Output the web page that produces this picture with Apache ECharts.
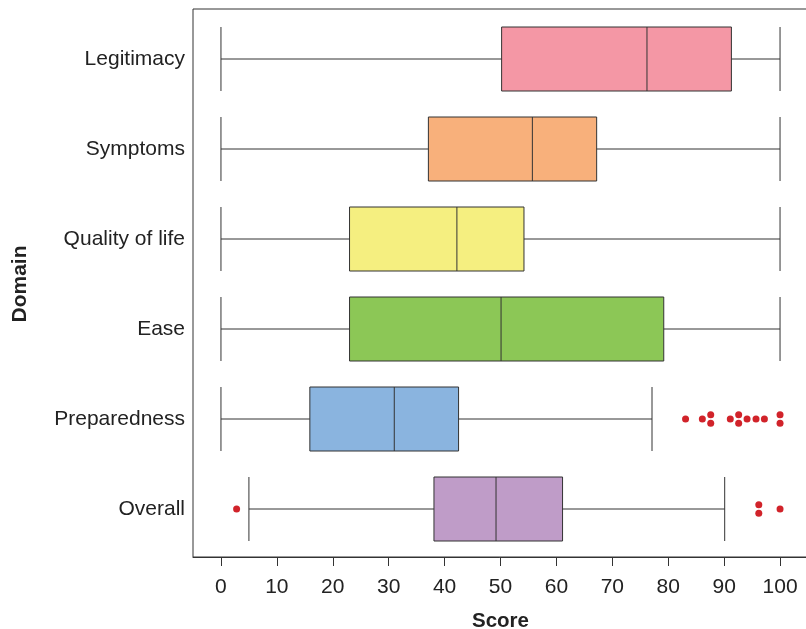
<!DOCTYPE html>
<html>
<head>
<meta charset="utf-8">
<script src="https://cdn.jsdelivr.net/npm/echarts@6/dist/echarts.min.js"></script>
<style>html,body{margin:0;padding:0;background:#fff;}#c{width:806px;height:629px;}</style>
</head>
<body>
<div id="c"></div>
<script>
// Categories listed top to bottom
var categories = ['Legitimacy', 'Symptoms', 'Quality of life', 'Ease', 'Preparedness', 'Overall'];
// [min whisker, Q1, median, Q3, max whisker]
var legitimacy   = [0, 50.2, 76.2, 91.3, 100];
var symptoms     = [0, 37.1, 55.7, 67.2, 100];
var qualityOfLife= [0, 23.0, 42.2, 54.2, 100];
var ease         = [0, 23.0, 50.1, 79.2, 100];
var preparedness = [0, 15.9, 31.0, 42.5, 77.1];
var overall      = [5.0, 38.1, 49.2, 61.1, 90.1];
var boxColors = ['#F497A5', '#F8B07B', '#F5EF80', '#8CC756', '#8AB4DF', '#BF9CC8'];
// outliers
var preparednessOutliers = [83.1, 86.1, 87.6, 87.6, 91.1, 92.6, 92.6, 94.1, 95.7, 97.2, 100, 100];
var overallOutliers = [2.8, 96.2, 96.2, 100];
var xTicks = [0, 10, 20, 30, 40, 50, 60, 70, 80, 90, 100];

var boxes = [legitimacy, symptoms, qualityOfLife, ease, preparedness, overall];
var boxData = boxes.map(function (b, i) {
  return { value: b, itemStyle: { color: boxColors[i] } };
});

function outlierPoints(vals, catIndex) {
  var counts = {};
  vals.forEach(function (v) { counts[v] = (counts[v] || 0) + 1; });
  var seen = {};
  return vals.map(function (v) {
    var n = counts[v];
    var k = seen[v] = (seen[v] || 0) + 1;
    var off = n > 1 ? (k - (n + 1) / 2) * 8.4 : 0;
    return { value: [v, catIndex], symbolOffset: [0, off] };
  });
}
var outliers = outlierPoints(preparednessOutliers, 4).concat(outlierPoints(overallOutliers, 5));

var font = 'Liberation Sans, Arial, Helvetica, sans-serif';
var chart = echarts.init(document.getElementById('c'), null, { renderer: 'canvas' });
chart.setOption({
  animation: false,
  backgroundColor: '#fff',
  grid: [
    { left: 193, width: 615, top: 14, height: 540, show: false, outerBoundsMode: 'none', containLabel: false },
    { left: 193, width: 615, top: 9, height: 548, show: true, borderColor: '#333', borderWidth: 1, backgroundColor: 'transparent', outerBoundsMode: 'none', containLabel: false }
  ],
  xAxis: [
    { gridIndex: 0, type: 'value', min: -5, max: 105, show: false },
    {
      gridIndex: 1, type: 'value', min: -5, max: 105,
      name: 'Score', nameLocation: 'middle', nameGap: 54,
      nameTextStyle: { fontFamily: font, fontSize: 20.5, fontWeight: 'bold', color: '#222' },
      axisLine: { show: true, lineStyle: { color: '#333', width: 1 } },
      axisTick: { show: true, length: 9, customValues: xTicks, lineStyle: { color: '#333' } },
      axisLabel: { customValues: xTicks, margin: 20, fontFamily: font, fontSize: 21, color: '#222' },
      splitLine: { show: false }
    }
  ],
  yAxis: [
    {
      gridIndex: 0, type: 'category', data: categories, inverse: true,
      name: 'Domain', nameLocation: 'middle', nameGap: 162, nameRotate: 90,
      nameTextStyle: { fontFamily: font, fontSize: 21, fontWeight: 'bold', color: '#222' },
      axisLine: { show: false }, axisTick: { show: false },
      axisLabel: { margin: 8, fontFamily: font, fontSize: 21, color: '#222', padding: [4, 0, 0, 0] },
      splitLine: { show: false }
    },
    { gridIndex: 1, type: 'value', min: 0, max: 1, show: false }
  ],
  series: [
    {
      type: 'boxplot', xAxisIndex: 0, yAxisIndex: 0,
      boxWidth: [64, 64],
      itemStyle: { borderColor: '#333', borderWidth: 1 },
      data: boxData
    },
    {
      type: 'scatter', xAxisIndex: 0, yAxisIndex: 0,
      symbol: 'circle', symbolSize: 7,
      itemStyle: { color: '#D1232A', opacity: 1 },
      data: outliers
    }
  ]
});
</script>
</body>
</html>
